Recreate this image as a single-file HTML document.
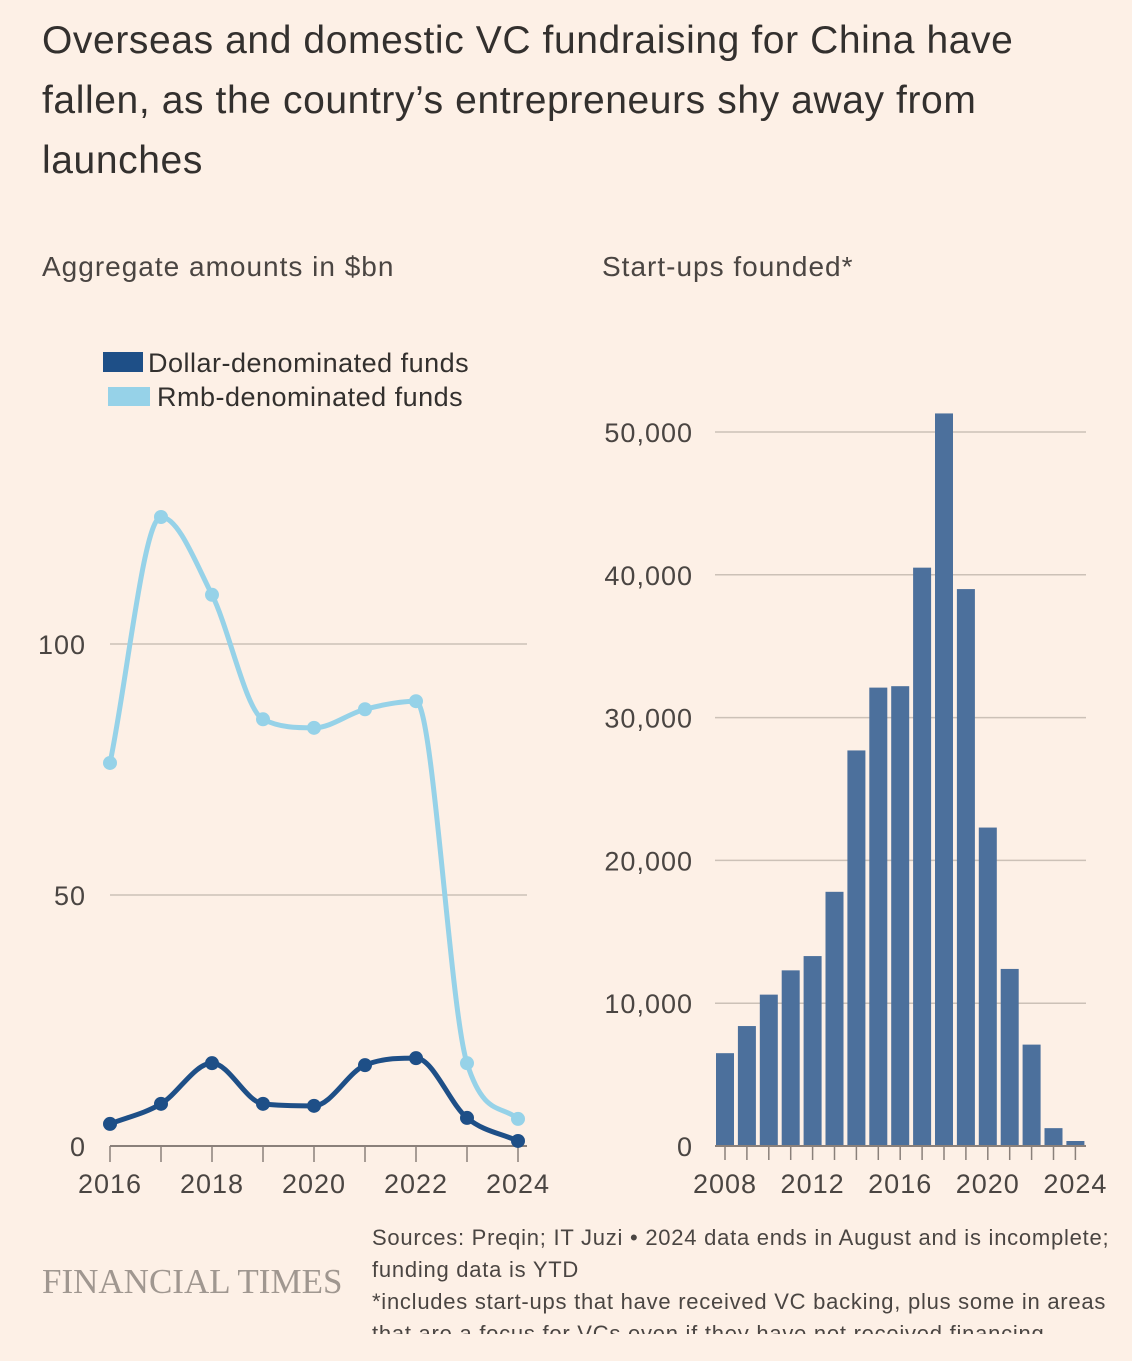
<!DOCTYPE html>
<html><head><meta charset="utf-8"><style>
body{margin:0;background:#fdf0e6;font-family:"Liberation Sans",sans-serif;color:#33302e}
#wrap{position:relative;width:1132px;height:1361px;overflow:hidden}
.t{position:absolute;white-space:nowrap}
</style></head><body>
<div id="wrap">
<div class="t" style="left:42px;top:11px;font-size:39px;letter-spacing:0.6px;line-height:60px;color:#33302e">Overseas and domestic VC fundraising for China have<br>fallen, as the country’s entrepreneurs shy away from<br>launches</div>
<div class="t" style="left:42px;top:251px;font-size:28px;letter-spacing:1px;color:#4a4542">Aggregate amounts in $bn</div>
<div class="t" style="left:602px;top:251px;font-size:28px;letter-spacing:1px;color:#4a4542">Start-ups founded*</div>
<svg id="svg" width="1132" height="1361" style="position:absolute;left:0;top:0"></svg>
<div class="t" style="left:42px;top:1262px;font-family:'Liberation Serif',serif;font-size:35px;color:#a09790">FINANCIAL TIMES</div>
<div class="t" style="left:372px;top:1222px;font-size:22px;letter-spacing:0.75px;line-height:32px;color:#4a4542;height:112px;overflow:hidden">Sources: Preqin; IT Juzi • 2024 data ends in August and is incomplete;<br>funding data is YTD<br>*includes start-ups that have received VC backing, plus some in areas<br>that are a focus for VCs even if they have not received financing</div>
</div>
<script>
const years=[2016,2017,2018,2019,2020,2021,2022,2023,2024];
const rmb=[76.3,125.3,109.8,85,83.3,87,88.6,16.5,5.4];
const usd=[4.4,8.4,16.5,8.4,8,16.1,17.5,5.6,1];
const leftTicks=[0,50,100];
const leftXLabels=[2016,2018,2020,2022,2024];
const barYears=[2008,2009,2010,2011,2012,2013,2014,2015,2016,2017,2018,2019,2020,2021,2022,2023,2024];
const startups=[6500,8400,10600,12300,13300,17800,27700,32100,32200,40500,51300,39000,22300,12400,7100,1250,350];
const rightTicks=[0,10000,20000,30000,40000,50000];
const rightXLabels=[2008,2012,2016,2020,2024];

const svg=document.getElementById('svg');
const NS='http://www.w3.org/2000/svg';
function mk(tag,attrs,parent){const e=document.createElementNS(NS,tag);for(const k in attrs)e.setAttribute(k,attrs[k]);(parent||svg).appendChild(e);return e;}
const lx=y=>110+(y-2016)*51;
const ly=v=>1146-v*5.02;
const rx=y=>725+(y-2008)*21.9;
const ry=v=>1146-v*0.01428;
const FS=27;

leftTicks.forEach(v=>{
  if(v>0){const g=mk('line',{x1:110,x2:527,y1:ly(v),y2:ly(v),stroke:'#ccc1b7','stroke-width':1.5});
  
  }
  const t=mk('text',{x:86,y:ly(v)+10,'text-anchor':'end','font-size':FS,'letter-spacing':1,fill:'#4a4542'});t.textContent=v;
  
  
});
const la=mk('line',{x1:110,x2:527,y1:1146,y2:1146,stroke:'#8a807a','stroke-width':2});


years.forEach(y=>{const tk=mk('line',{x1:lx(y),x2:lx(y),y1:1146,y2:1162,stroke:'#8a807a','stroke-width':1.5});
  
  });
leftXLabels.forEach(y=>{const t=mk('text',{x:lx(y),y:1193,'text-anchor':'middle','font-size':FS,'letter-spacing':1,fill:'#4a4542'});t.textContent=y;
  
  });

function monotone(pts){
  const n=pts.length,dx=[],s=[],m=[];
  for(let i=0;i<n-1;i++){dx[i]=pts[i+1][0]-pts[i][0];s[i]=(pts[i+1][1]-pts[i][1])/dx[i];}
  m[0]=s[0];m[n-1]=s[n-2];
  for(let i=1;i<n-1;i++){m[i]=(s[i-1]*s[i]<=0)?0:(s[i-1]+s[i])/2;}
  for(let i=0;i<n-1;i++){
    if(s[i]===0){m[i]=0;m[i+1]=0;continue;}
    const a=m[i]/s[i],b=m[i+1]/s[i],h=a*a+b*b;
    if(h>9){const t=3/Math.sqrt(h);m[i]=t*a*s[i];m[i+1]=t*b*s[i];}
  }
  let d='M'+pts[0][0]+','+pts[0][1];
  for(let i=0;i<n-1;i++){
    const h=dx[i]/3;
    d+=' C'+(pts[i][0]+h)+','+(pts[i][1]+m[i]*h)+' '+(pts[i+1][0]-h)+','+(pts[i+1][1]-m[i+1]*h)+' '+pts[i+1][0]+','+pts[i+1][1];
  }
  return d;
}
function series(vals,color,name){
  const pts=years.map((y,i)=>[lx(y),ly(vals[i])]);
  const p=mk('path',{d:monotone(pts),fill:'none',stroke:color,'stroke-width':5,'stroke-linecap':'round'});
  
  
  pts.forEach(q=>{const c=mk('circle',{cx:q[0],cy:q[1],r:7,fill:color});
    
    });
}
series(rmb,'#96d2e8','rmb-funds');
series(usd,'#1e4f87','dollar-funds');

const s1=mk('rect',{x:103,y:352,width:40,height:20,fill:'#1e4f87'});


const l1=mk('text',{x:148,y:372,'font-size':FS,'letter-spacing':0.5,fill:'#33302e'});l1.textContent='Dollar-denominated funds';


const s2=mk('rect',{x:108,y:387,width:42,height:19,fill:'#96d2e8'});


const l2=mk('text',{x:157,y:406,'font-size':FS,'letter-spacing':0.5,fill:'#33302e'});l2.textContent='Rmb-denominated funds';



rightTicks.forEach(v=>{
  if(v>0){const g=mk('line',{x1:715,x2:1086,y1:ry(v),y2:ry(v),stroke:'#ccc1b7','stroke-width':1.5});
  
  }
  const t=mk('text',{x:693,y:ry(v)+10,'text-anchor':'end','font-size':FS,'letter-spacing':1,fill:'#4a4542'});t.textContent=v.toLocaleString('en-US');
  
  
});
barYears.forEach((y,i)=>{
  const b=mk('rect',{x:rx(y)-9,y:ry(startups[i]),width:18,height:1146-ry(startups[i]),fill:'#4c709c'});
  
  
  const tk=mk('line',{x1:rx(y),x2:rx(y),y1:1146,y2:1160,stroke:'#8a807a','stroke-width':1.5});
  
  
});
const ra=mk('line',{x1:715,x2:1086,y1:1146,y2:1146,stroke:'#8a807a','stroke-width':2});


rightXLabels.forEach(y=>{const t=mk('text',{x:rx(y),y:1193,'text-anchor':'middle','font-size':FS,'letter-spacing':1,fill:'#4a4542'});t.textContent=y;
  
  });
</script>
</body></html>
